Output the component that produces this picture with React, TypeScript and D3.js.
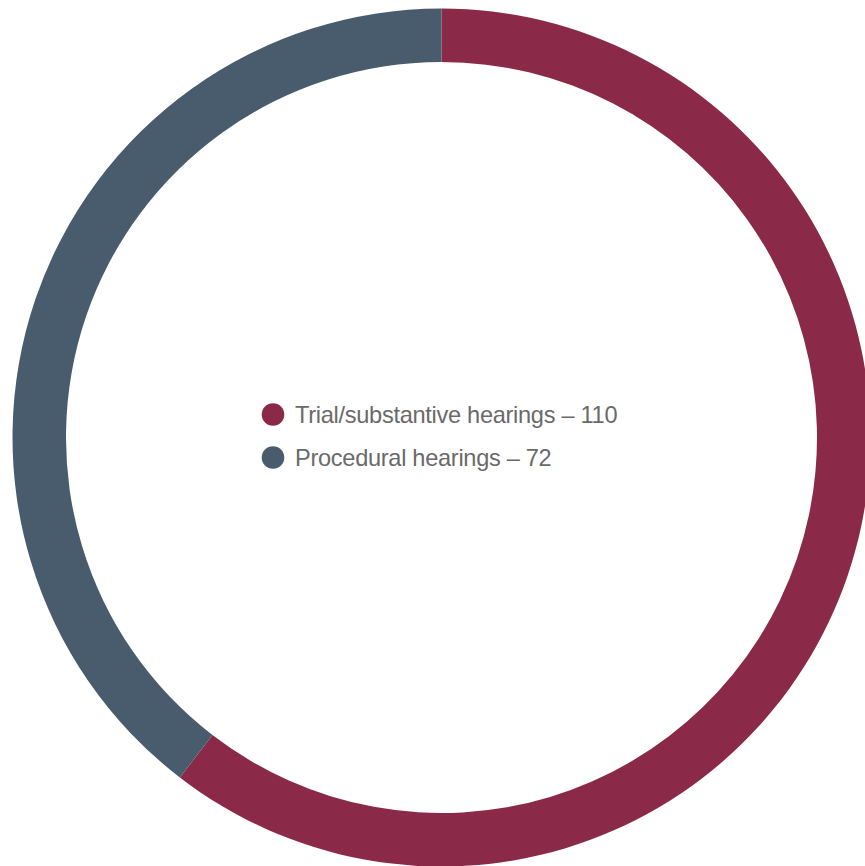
import React from "react";
import * as d3 from "d3";

const categories = ["Trial/substantive hearings", "Procedural hearings"];
const values = [110, 72];
const colors = ["#8A2A48", "#485C6E"];

export default function App() {
  const width = 865;
  const height = 866;
  const cx = 441.5;
  const cy = 437.5;
  const outerR = 429;
  const innerR = 375.5;

  const pie = d3.pie<number>().sort(null).value((d) => d);
  const arcs = pie(values);
  const arc = d3.arc<d3.PieArcDatum<number>>().innerRadius(innerR).outerRadius(outerR);

  return (
    <svg
      width={width}
      height={height}
      style={{ position: "absolute", left: 0, top: 0, background: "#fff" }}
    >
      <g transform={`translate(${cx},${cy})`}>
        {arcs.map((a, i) => (
          <path key={i} d={arc(a) || ""} fill={colors[i]} />
        ))}
      </g>
      <g transform="translate(273,414.5)">
        {categories.map((c, i) => (
          <g key={c} transform={`translate(0,${i * 43})`}>
            <circle r={11.3} fill={colors[i]} />
            <text
              x={22}
              y={8.8}
              fontFamily="'Liberation Sans', Arial, sans-serif"
              fontSize={23.6}
              letterSpacing={-0.3}
              fill="#6a6a6a"
            >
              {`${c} – ${values[i]}`}
            </text>
          </g>
        ))}
      </g>
    </svg>
  );
}
